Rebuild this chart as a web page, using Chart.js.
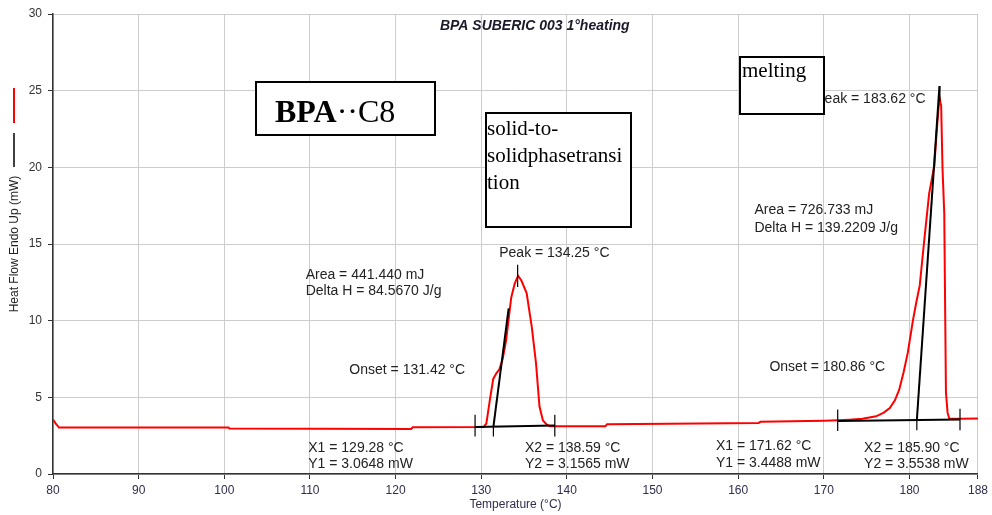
<!DOCTYPE html>
<html>
<head>
<meta charset="utf-8">
<script src="https://cdn.jsdelivr.net/npm/chart.js@4"></script>
<style>
  html, body { margin: 0; padding: 0; background: #fff; }
  #wrap { width: 992px; height: 515px; }
</style>
</head>
<body>
<div id="wrap"><canvas id="dscChart" width="992" height="515"></canvas></div>
<script>
// DSC trace, first heating (temperature in °C, heat flow in mW)
const tempC = [
  80.0, 80.3, 80.7, 100.5, 100.6, 121.8, 122.0, 130.3, 130.6, 131.0,
  131.4, 131.8, 132.1, 132.5, 132.9, 133.5, 133.9, 134.3, 134.7, 135.3,
  135.9, 136.4, 136.8, 137.2, 137.6, 138.0, 144.5, 144.7, 162.4, 162.6,
  170.0, 171.6, 173.0, 174.5, 176.1, 177.0, 177.7, 178.3, 178.8, 179.3,
  179.8, 180.4, 180.8, 181.2, 181.7, 182.3, 182.9, 183.2, 183.5, 183.7,
  183.86, 184.06, 184.26, 184.45, 184.64, 186.0, 188.0
];
const heatFlow = [
  3.55, 3.30, 3.03, 3.03, 2.96, 2.94, 3.05, 3.07, 3.30, 4.80,
  6.20, 6.60, 6.80, 7.50, 8.70, 11.5, 12.4, 12.93, 12.6, 11.8,
  9.60, 7.20, 4.40, 3.50, 3.25, 3.12, 3.12, 3.25, 3.33, 3.40,
  3.47, 3.50, 3.54, 3.60, 3.76, 4.00, 4.30, 4.80, 5.50, 6.60,
  7.90, 10.0, 11.2, 12.3, 15.1, 18.3, 20.1, 22.5, 24.6, 24.0,
  19.9, 17.0, 5.30, 4.00, 3.62, 3.60, 3.62
];

// analysis construction lines: [x1, y1, x2, y2]
const baselines = [
  [129.28, 3.0648, 138.59, 3.1565],
  [171.62, 3.4488, 185.90, 3.5538]
];
const tangents = [
  [131.42, 3.08, 133.2, 10.8],
  [180.86, 3.50, 183.5, 25.3]
];
const markers = [
  [129.28, 2.45, 129.28, 3.87],
  [138.59, 2.45, 138.59, 3.87],
  [131.42, 2.45, 131.42, 3.08],
  [134.25, 12.2, 134.25, 13.65],
  [171.62, 2.80, 171.62, 4.20],
  [185.90, 2.85, 185.90, 4.25],
  [180.86, 2.85, 180.86, 3.50],
  [183.55, 24.3, 183.55, 25.3]
];

const xTicks = [80, 90, 100, 110, 120, 130, 140, 150, 160, 170, 180, 188];

// result labels, anchored in data units: [text, temp, mW]
const resultLabels = [
  ["Area = 441.440 mJ", 109.5, 13.0],
  ["Delta H = 84.5670 J/g", 109.5, 11.9],
  ["Onset = 131.42 °C", 114.6, 6.8],
  ["Peak = 134.25 °C", 132.1, 14.42],
  ["X1 = 129.28 °C", 109.8, 1.7],
  ["Y1 = 3.0648 mW", 109.8, 0.62],
  ["X2 = 138.59 °C", 135.1, 1.7],
  ["Y2 = 3.1565 mW", 135.1, 0.62],
  ["Area = 726.733 mJ", 161.9, 17.2],
  ["Delta H = 139.2209 J/g", 161.9, 16.05],
  ["Onset = 180.86 °C", 163.65, 7.0],
  ["X1 = 171.62 °C", 157.4, 1.8],
  ["Y1 = 3.4488 mW", 157.4, 0.72],
  ["X2 = 185.90 °C", 174.7, 1.7],
  ["Y2 = 3.5538 mW", 174.7, 0.62],
  ["Peak = 183.62 °C", 169.0, 24.42]
];

const segDataset = (seg, width) => ({
  data: [{ x: seg[0], y: seg[1] }, { x: seg[2], y: seg[3] }],
  borderColor: "#000",
  borderWidth: width,
  pointRadius: 0,
  showLine: true,
  fill: false,
});

const datasets = [];
baselines.forEach((s) => datasets.push(segDataset(s, 2)));
tangents.forEach((s) => datasets.push(segDataset(s, 2)));
markers.forEach((s) => datasets.push(segDataset(s, 1.2)));
datasets.push({
  data: tempC.map((t, i) => ({ x: t, y: heatFlow[i] })),
  borderColor: "#ff0000",
  borderWidth: 2,
  pointRadius: 0,
  showLine: true,
  tension: 0,
  fill: false,
});

const boxText = (ctx, x, y, w, h) => {
  ctx.fillStyle = "#fff";
  ctx.fillRect(x, y, w, h);
  ctx.strokeStyle = "#000";
  ctx.lineWidth = 2;
  ctx.strokeRect(x, y, w, h);
};

const annotations = {
  id: "annotations",
  afterDatasetsDraw(chart) {
    const { ctx, scales: { x, y } } = chart;
    ctx.save();
    ctx.fillStyle = "#222";
    ctx.textBaseline = "middle";
    ctx.textAlign = "left";
    ctx.font = "14px 'Liberation Sans', Arial, sans-serif";
    resultLabels.forEach(([txt, t, v]) => {
      ctx.fillText(txt, x.getPixelForValue(t), y.getPixelForValue(v));
    });

    // run title
    ctx.textAlign = "center";
    ctx.fillStyle = "#1a1a2a";
    ctx.font = "italic bold 14px 'Liberation Sans', Arial, sans-serif";
    ctx.fillText("BPA SUBERIC 003 1°heating", x.getPixelForValue(136.25), y.getPixelForValue(29.24));

    // legend strokes beside the y title
    ctx.lineWidth = 2;
    ctx.strokeStyle = "#ff0000";
    ctx.beginPath(); ctx.moveTo(14, 88); ctx.lineTo(14, 123); ctx.stroke();
    ctx.lineWidth = 1.5;
    ctx.strokeStyle = "#000";
    ctx.beginPath(); ctx.moveTo(14, 133); ctx.lineTo(14, 167); ctx.stroke();

    // text boxes
    ctx.textAlign = "left";
    ctx.textBaseline = "alphabetic";
    boxText(ctx, 256, 82, 179, 53);
    ctx.fillStyle = "#000";
    ctx.font = "bold 32px 'Liberation Serif', 'Times New Roman', serif";
    ctx.fillText("BPA", 275, 122);
    const bw = ctx.measureText("BPA").width;
    ctx.font = "32px 'Liberation Serif', 'Times New Roman', serif";
    ctx.fillText("\u00B7\u00B7C8", 275 + bw, 122);

    boxText(ctx, 486, 113, 145, 114);
    ctx.fillStyle = "#000";
    ctx.font = "21px 'Liberation Serif', 'Times New Roman', serif";
    ctx.fillText("solid-to-", 487, 135);
    ctx.fillText("solidphasetransi", 487, 162);
    ctx.fillText("tion", 487, 189);

    boxText(ctx, 740, 57, 84, 57);
    ctx.fillStyle = "#000";
    ctx.fillText("melting", 742, 77);
    ctx.restore();
  },
};

new Chart(document.getElementById("dscChart"), {
  type: "scatter",
  data: { datasets },
  options: {
    responsive: false,
    animation: false,
    layout: { padding: { top: 14, right: 14, left: 0, bottom: 0 } },
    plugins: {
      legend: { display: false },
      tooltip: { enabled: false },
    },
    scales: {
      x: {
        type: "linear",
        min: 80,
        max: 188,
        afterBuildTicks(scale) {
          scale.ticks = xTicks.map((v) => ({ value: v }));
        },
        afterFit(scale) {
          scale.height = 41;
        },
        ticks: {
          color: "#2e2e4e",
          font: { family: "'Liberation Sans', Arial, sans-serif", size: 12 },
          padding: 4,
          maxRotation: 0,
          autoSkip: false,
        },
        grid: { color: "#cccccc", tickColor: "#333", tickLength: 5 },
        border: { color: "#333", width: 1.5 },
        title: {
          display: true,
          text: "Temperature (°C)",
          color: "#2e2e4e",
          font: { family: "'Liberation Sans', Arial, sans-serif", size: 12 },
          padding: { top: 0, bottom: 3 },
        },
      },
      y: {
        min: 0,
        max: 30,
        afterFit(scale) {
          scale.width = 53;
        },
        ticks: {
          stepSize: 5,
          color: "#333",
          font: { family: "'Liberation Sans', Arial, sans-serif", size: 12 },
          padding: 6,
        },
        grid: { color: "#cccccc", tickColor: "#333", tickLength: 5 },
        border: { color: "#333", width: 1.5 },
        title: {
          display: true,
          text: "Heat Flow Endo Up (mW)",
          color: "#222",
          font: { family: "'Liberation Sans', Arial, sans-serif", size: 12 },
          padding: { top: 7, bottom: 0 },
        },
      },
    },
  },
  plugins: [annotations],
});
</script>
</body>
</html>
